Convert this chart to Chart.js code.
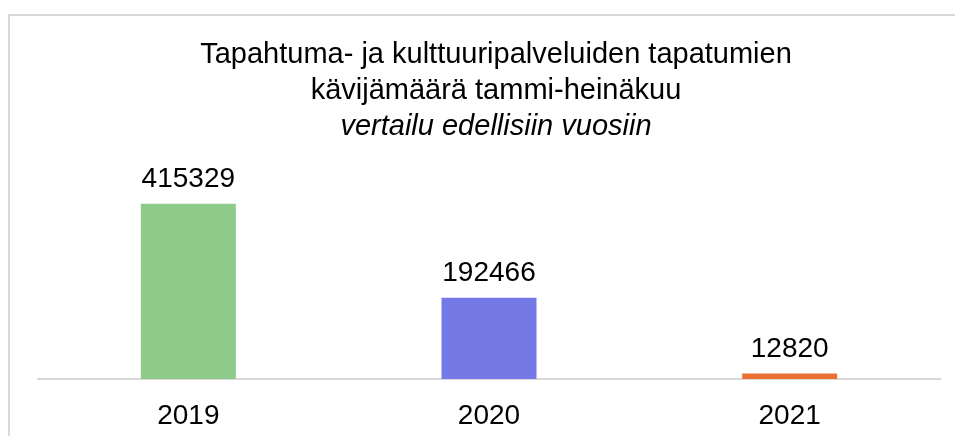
<!DOCTYPE html>
<html>
<head>
<meta charset="utf-8">
<script src="https://cdn.jsdelivr.net/npm/chart.js@4"></script>
<style>
  html, body { margin: 0; padding: 0; background: #fff; overflow: hidden; }
  #frame {
    position: absolute; left: 8px; top: 14px; width: 1000px; height: 500px;
    border: 2px solid #d9d9d9; box-sizing: border-box;
  }
  #wrap { position: absolute; left: 0; top: 0; width: 955px; height: 436px; }
</style>
</head>
<body>
<div id="frame"></div>
<div id="wrap"><canvas id="chart" width="955" height="436"></canvas></div>
<script>
const years = ["2019", "2020", "2021"];
const visitors = [415329, 192466, 12820];
const barColors = ["#8ECA89", "#7579E6", "#ED7033"];
const titleLines = [
  "Tapahtuma- ja kulttuuripalveluiden tapatumien",
  "kävijämäärä tammi-heinäkuu",
  "vertailu edellisiin vuosiin"
];

const FONT = "'Liberation Sans', Arial, sans-serif";

// title drawn by hand, last line in italics
const titlePlugin = {
  id: "titleLines",
  afterDraw(chart) {
    const c = chart.ctx;
    c.save();
    c.fillStyle = "#000";
    c.textAlign = "center";
    c.textBaseline = "alphabetic";
    const ys = [63, 99, 135];
    titleLines.forEach((t, i) => {
      c.font = (i === 2 ? "italic " : "") + "29px " + FONT;
      c.fillText(t, 496, ys[i]);
    });
    c.restore();
  }
};

// value labels above bars
const valueLabels = {
  id: "valueLabels",
  afterDatasetsDraw(chart) {
    const c = chart.ctx;
    const meta = chart.getDatasetMeta(0);
    c.save();
    c.fillStyle = "#000";
    c.font = "28px " + FONT;
    c.textAlign = "center";
    c.textBaseline = "alphabetic";
    meta.data.forEach((bar, i) => {
      c.fillText(String(visitors[i]), bar.x, bar.y - 17);
    });
    c.restore();
  }
};

new Chart(document.getElementById("chart"), {
  type: "bar",
  data: {
    labels: years,
    datasets: [{
      data: visitors,
      backgroundColor: barColors,
      categoryPercentage: 1,
      barPercentage: 0.316,
    }],
  },
  options: {
    responsive: false,
    animation: false,
    layout: { padding: { top: 189, left: 38, right: 15, bottom: 0 } },
    plugins: {
      legend: { display: false },
      title: { display: false },
      tooltip: { enabled: false },
    },
    scales: {
      x: {
        grid: { display: false, drawTicks: false },
        border: { color: "#d9d9d9", width: 2 },
        ticks: { color: "#000", font: { family: FONT, size: 28 }, padding: 20 },
        afterFit(scale) { scale.height = 57; },
      },
      y: { display: false, min: 0, max: 450000 },
    },
  },
  plugins: [titlePlugin, valueLabels],
});
</script>
</body>
</html>
